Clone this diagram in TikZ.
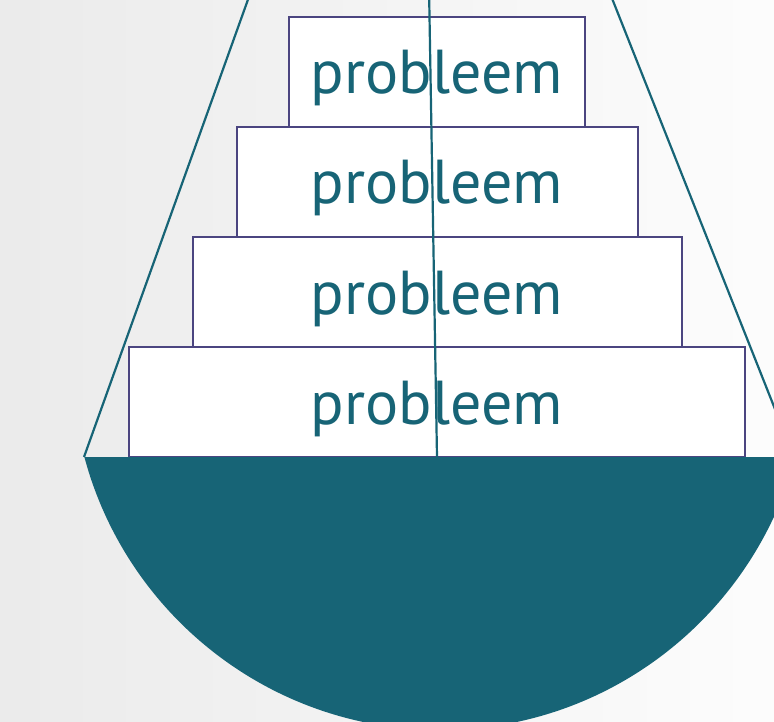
\documentclass[tikz,border=0pt]{standalone}
\usepackage{fontspec}
\setmainfont{PT Sans}
\usepackage{tikz}
\usetikzlibrary{positioning}

\definecolor{panteal}{HTML}{176476}
\definecolor{boxline}{HTML}{4B4580}

\begin{document}
\begin{tikzpicture}[x=1pt,y=-1pt,
  probbox/.style={draw=boxline,line width=2pt,fill=white,inner sep=0pt,outer sep=0pt,
    minimum height=110pt,text height=50pt,text depth=6pt,text=panteal,
    font=\fontsize{62}{64}\selectfont},
  string/.style={draw=panteal,line width=2.2pt}]
  \useasboundingbox (0,0) rectangle (774,722);
  \clip (0,0) rectangle (774,722);
  % background
  \shade[left color=black!8,right color=black!1] (0,0) rectangle (774,722);
  % stacked problems
  \node[probbox,minimum width=616pt] (p4) at (437,402) {probleem};
  \node[probbox,minimum width=489pt,above=0pt of p4] (p3) {probleem};
  \node[probbox,minimum width=401pt,above=0pt of p3] (p2) {probleem};
  \node[probbox,minimum width=296pt,above=0pt of p2] (p1) {probleem};
  % pan
  \begin{scope}
    \clip (0,457) rectangle (774,722);
    \fill[panteal] (440,362) circle[radius=368];
  \end{scope}
  % strings
  \coordinate (apex) at (421,-483);
  \coordinate (panL) at (84,457);
  \coordinate (panR) at (794,457);
  \coordinate (panC) at (437,457);
  \draw[string] (apex) -- (panL);
  \draw[string] (apex) -- (panR);
  \draw[string] (apex) -- (panC);
\end{tikzpicture}
\end{document}
